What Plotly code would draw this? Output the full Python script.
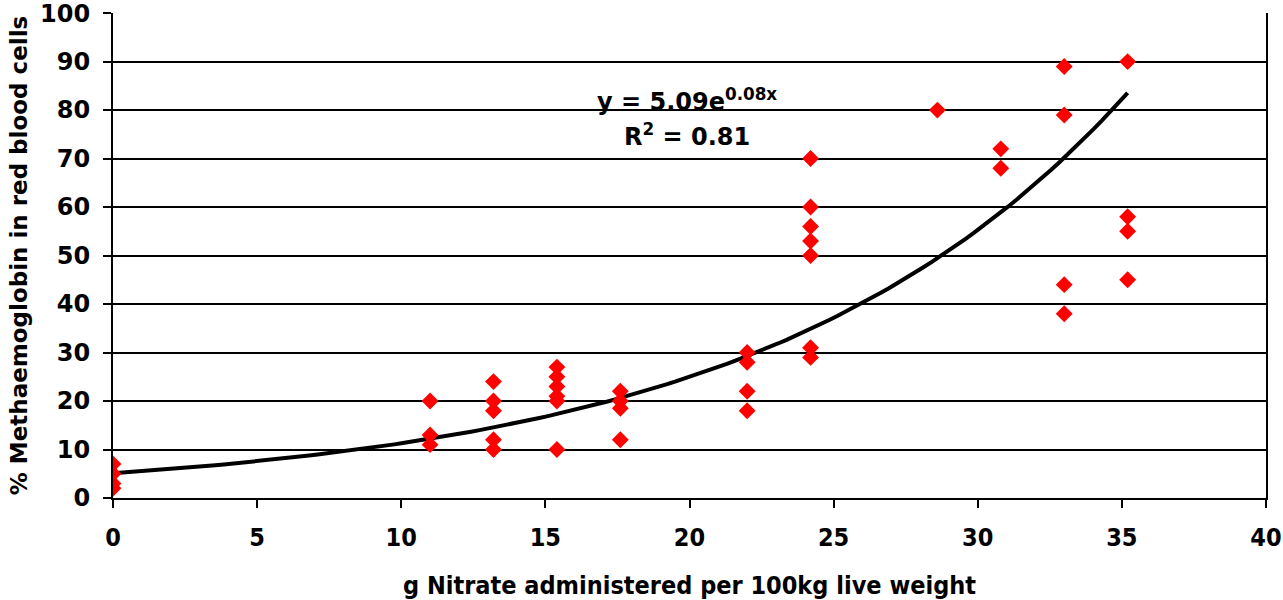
import numpy as np
import plotly.graph_objects as go

# Data
nitrate = [0, 0, 0, 0,
           11, 11, 11,
           13.2, 13.2, 13.2, 13.2, 13.2,
           15.4, 15.4, 15.4, 15.4, 15.4, 15.4,
           17.6, 17.6, 17.6, 17.6,
           22, 22, 22, 22,
           24.2, 24.2, 24.2, 24.2, 24.2, 24.2, 24.2,
           28.6,
           30.8, 30.8,
           33, 33, 33, 33,
           35.2, 35.2, 35.2, 35.2]
methaemoglobin = [7, 5, 3, 2,
                  20, 13, 11,
                  24, 20, 18, 12, 10,
                  27, 25, 23, 21, 20, 10,
                  22, 20, 18.5, 12,
                  30, 28, 22, 18,
                  70, 60, 56, 53, 50, 31, 29,
                  80,
                  72, 68,
                  89, 79, 44, 38,
                  90, 58, 55, 45]

# Exponential trendline coefficients (y = a * exp(b x))
TREND_A = 5.09
TREND_B = 0.0795
trend_x = np.linspace(0, 35.2, 120)
trend_y = TREND_A * np.exp(TREND_B * trend_x)

x_ticks = [0, 5, 10, 15, 20, 25, 30, 35, 40]
y_ticks = [0, 10, 20, 30, 40, 50, 60, 70, 80, 90, 100]

FONT = "DejaVu Sans"
COND = "DejaVu Sans Condensed"

fig = go.Figure()
fig.add_trace(go.Scatter(
    x=trend_x, y=trend_y, mode="lines",
    line=dict(color="black", width=4),
    showlegend=False, hoverinfo="skip"))
fig.add_trace(go.Scatter(
    x=nitrate, y=methaemoglobin, mode="markers",
    marker=dict(symbol="diamond", color="#ff0000", size=13, line=dict(width=0)),
    showlegend=False))

fig.add_annotation(
    x=19.9, y=82, xref="x", yref="y",
    text="<b>y = 5.09e<sup>0.08x</sup></b>",
    showarrow=False, font=dict(family=FONT, size=24, color="black"))
fig.add_annotation(
    x=19.9, y=74.8, xref="x", yref="y",
    text="<b>R<sup>2</sup> = 0.81</b>",
    showarrow=False, font=dict(family=FONT, size=24, color="black"))

fig.update_layout(
    width=1283, height=600,
    margin=dict(l=113, r=17, t=13, b=102, autoexpand=False),
    paper_bgcolor="white", plot_bgcolor="white",
    font=dict(family=FONT, color="black"),
)
fig.update_xaxes(
    range=[0, 40], tickvals=x_ticks, ticktext=[str(v) for v in x_ticks],
    showgrid=False, zeroline=False, automargin=False,
    showline=True, linecolor="black", linewidth=2,
    ticks="outside", ticklen=8, tickwidth=1.5, tickcolor="black",
    ticklabelstandoff=8, ticklabeloverflow="allow",
    tickfont=dict(family=COND, size=25, color="black", weight="bold"),
    title=dict(text="<b>g Nitrate administered per 100kg live weight</b>",
               font=dict(family=COND, size=25, color="black"),
               standoff=30),
)
fig.update_yaxes(
    range=[0, 100.02], tickvals=y_ticks, ticktext=[str(v) for v in y_ticks],
    showgrid=True, gridcolor="black", gridwidth=2, zeroline=False, automargin=False,
    showline=True, linecolor="black", linewidth=2, mirror=True,
    ticks="outside", ticklen=8, tickwidth=1.5, tickcolor="black",
    ticklabelstandoff=8, ticklabeloverflow="allow",
    tickfont=dict(family=FONT, size=24, color="black", weight="bold"),
    title=dict(text="<b>% Methaemoglobin in red blood cells</b>",
               font=dict(family=FONT, size=23, color="black"),
               standoff=6),
)

fig.write_html(
    "out.html",
    config={"displayModeBar": False},
    post_script="document.body.style.margin='0';document.body.style.overflow='hidden';",
)
